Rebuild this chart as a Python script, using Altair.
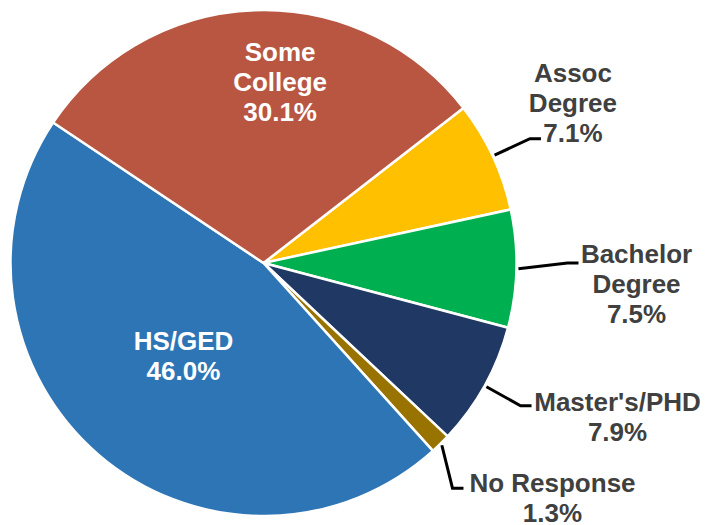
import math
import altair as alt
import pandas as pd

# ---- data ----
categories = ["Assoc Degree", "Bachelor Degree", "Master's/PHD", "No Response", "HS/GED", "Some College"]
label_names = ["Assoc\nDegree", "Bachelor\nDegree", "Master's/PHD", "No Response", "HS/GED", "Some\nCollege"]
values = [7.1, 7.5, 7.9, 1.3, 46.0, 30.1]
colors = ["#FFC000", "#00B050", "#1F3864", "#997300", "#2E75B6", "#B85642"]

# ---- layout / style ----
W, H = 692, 517
CX, CY = 255.5, 255.0
R = 253
START = math.radians(52.2)
FONT = "Liberation Sans"
LH = 30

# inside labels: (radius, dx, dy) of the text block centre
inside_style = {
    "HS/GED": (130, 5, -4),
    "Some College": (180, 23, 0),
}
# outside labels: leader (r_start, r_elbow, elbow angle override deg or None, horizontal len), label offset from leader end
outside_style = {
    "Assoc Degree": (255, 294, None, 11, (32, -35)),
    "Bachelor Degree": (255, 304, 90.0, 11, (58, 22)),
    "Master's/PHD": (255, 294, None, 11, (86, 12)),
    "No Response": (255, 294, 140.0, 11, (89, 11)),
}

total = sum(values)
pie_rows, label_rows, line_rows = [], [], []
cum = 0.0


def polar(r, a):
    return CX + r * math.sin(a), CY - r * math.cos(a)


for i, (cat, name, v) in enumerate(zip(categories, label_names, values)):
    mid = START + 2 * math.pi * (cum + v / 2) / total
    cum += v
    pie_rows.append({"category": cat, "value": v, "idx": i})
    text = f"{name}\n{v:.1f}%"
    n_lines = text.count("\n") + 1
    shift = -(n_lines - 1) * LH / 2  # Vega anchors the first line

    if cat in inside_style:
        r, dx, dy = inside_style[cat]
        px, py = polar(r, mid)
        label_rows.append({"category": cat, "text": text, "x": px + dx, "y": py + dy + shift, "inside": True})
    else:
        r1, r2, a2, hl, (ox, oy) = outside_style[cat]
        sx, sy = polar(r1, mid)
        ea = math.radians(a2) if a2 is not None else mid
        ex, ey = polar(r2, ea)
        fx, fy = ex + hl, ey
        for k, (xx, yy) in enumerate([(sx, sy), (ex, ey), (fx, fy)]):
            line_rows.append({"category": cat, "k": k, "x": xx, "y": yy})
        label_rows.append({"category": cat, "text": text, "x": fx + ox, "y": fy + oy + shift, "inside": False})

pie_df = pd.DataFrame(pie_rows)
lab_df = pd.DataFrame(label_rows)
line_df = pd.DataFrame(line_rows)

pie = alt.Chart(pie_df).mark_arc(outerRadius=R, stroke="white", strokeWidth=2.5).encode(
    theta=alt.Theta("value:Q", stack=True, scale=alt.Scale(range=[START, START + 2 * math.pi])),
    color=alt.Color("category:N", scale=alt.Scale(domain=categories, range=colors), legend=None),
    order=alt.Order("idx:Q"),
    x=alt.value(CX),
    y=alt.value(CY),
)

leaders = alt.Chart(line_df).mark_line(color="black", strokeWidth=3).encode(
    x=alt.X("x:Q", scale=None, axis=None),
    y=alt.Y("y:Q", scale=None, axis=None),
    detail="category:N",
    order="k:Q",
)

text_common = dict(lineBreak="\n", lineHeight=LH, align="center", baseline="middle",
                   font=FONT, fontSize=26, fontWeight="bold")

inside_text = alt.Chart(lab_df[lab_df["inside"]]).mark_text(color="white", **text_common).encode(
    x=alt.X("x:Q", scale=None, axis=None),
    y=alt.Y("y:Q", scale=None, axis=None),
    text="text:N",
)
outside_text = alt.Chart(lab_df[~lab_df["inside"]]).mark_text(color="#404040", **text_common).encode(
    x=alt.X("x:Q", scale=None, axis=None),
    y=alt.Y("y:Q", scale=None, axis=None),
    text="text:N",
)

chart = alt.layer(pie, leaders, inside_text, outside_text).properties(
    width=W, height=H, autosize=alt.AutoSizeParams(type="none"), padding=0
).configure_view(stroke=None)

chart.save("out.html", embed_options={"renderer": "svg", "actions": False})
